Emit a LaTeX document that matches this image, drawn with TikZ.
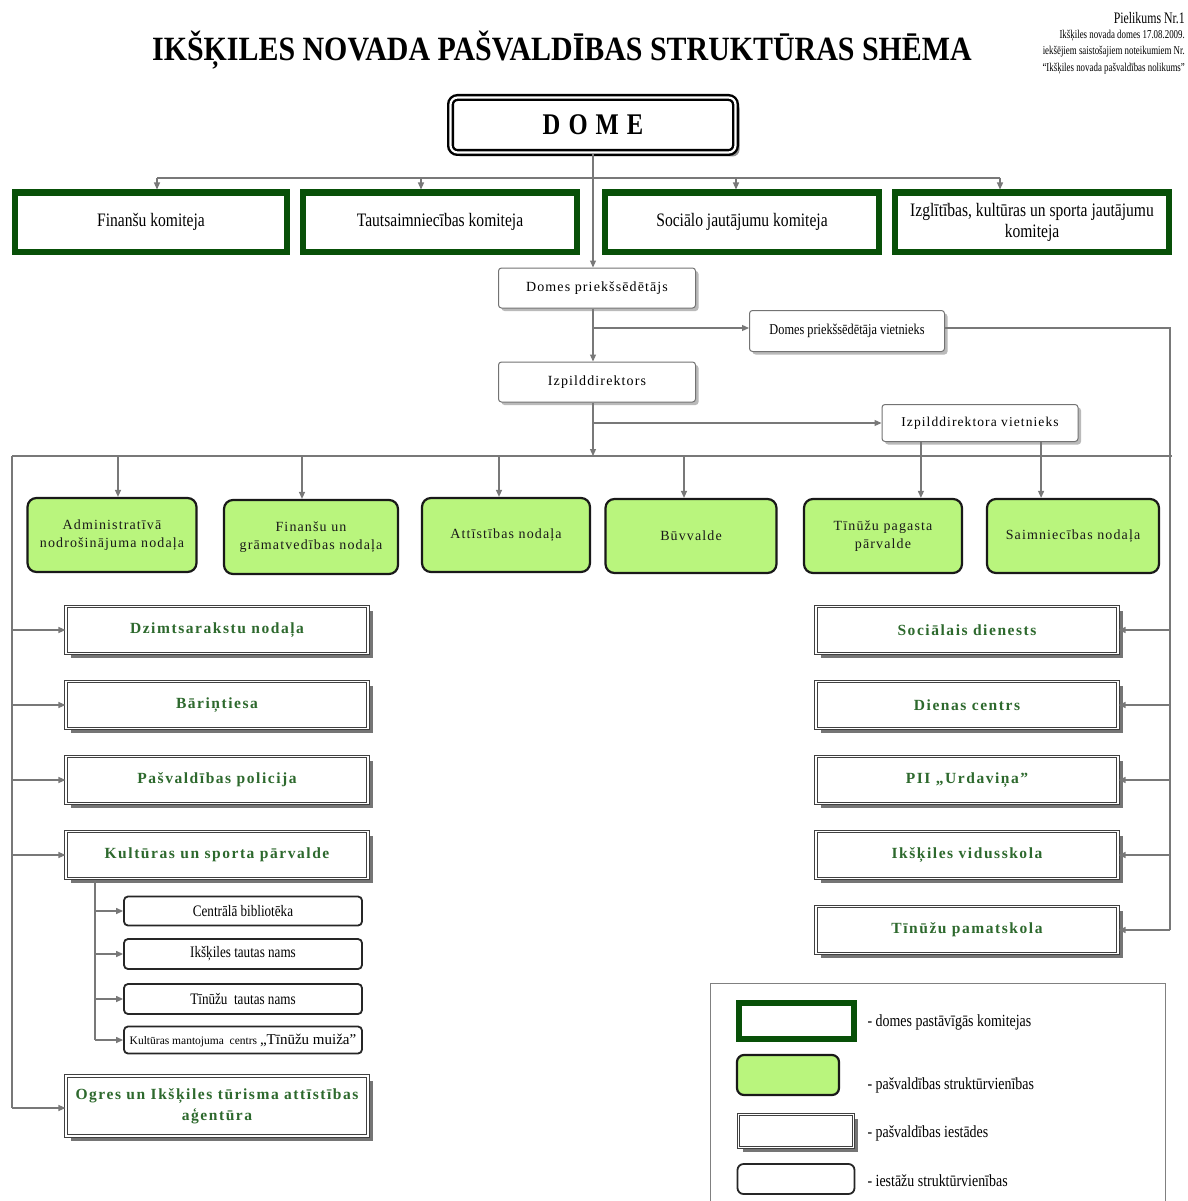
\documentclass[tikz,border=0pt]{standalone}
\usepackage{fontspec}
\setmainfont{Liberation Serif}
\newfontfamily\cond[FakeStretch=0.82]{Liberation Serif}
\newfontfamily\ncond[FakeStretch=0.74]{Liberation Serif}
\newfontfamily\titlef[FakeStretch=0.88]{Liberation Serif}
\newfontfamily\spc[LetterSpace=8]{Liberation Serif}
\newfontfamily\spcb[LetterSpace=10]{Liberation Serif}
\usetikzlibrary{arrows.meta,shadows,calc}
\definecolor{cgreen}{RGB}{8,80,8}
\definecolor{lgreen}{RGB}{185,245,125}
\definecolor{tgreen}{RGB}{45,105,45}
\definecolor{cgray}{RGB}{120,120,120}
\tikzset{
  conn/.style={draw=cgray, line width=1.2pt},
  arr/.style={conn, -{Triangle[length=7pt,width=6pt]}},
  domebox/.style={draw=black, line width=2.4pt, double=white, double distance=2.2pt, rounded corners=7pt, fill=white,
    drop shadow={opacity=0.7, fill=black!60, shadow xshift=4pt, shadow yshift=-4pt}},
  komit/.style={draw=cgreen, line width=6pt, fill=white, font=\cond\fontsize{19}{21}\selectfont, align=center, inner sep=2pt},
  chief/.style={draw=black!55, line width=1pt, rounded corners=3pt, fill=white,
    drop shadow={opacity=0.6, fill=black!45, shadow xshift=3pt, shadow yshift=-3pt}},
  dept/.style={draw=black!90, line width=2.2pt, rounded corners=9pt, fill=lgreen, align=center, text=black!90,
    font=\spc\fontsize{14}{18}\selectfont},
  inst/.style={draw=black!75, line width=1.1pt, double=white, double distance=1.6pt, fill=white, align=center,
    drop shadow={opacity=0.9, fill=black!60, shadow xshift=4.5pt, shadow yshift=-4.5pt},
    font=\spcb\bfseries\fontsize{15.5}{21}\selectfont, text=tgreen},
  subbox/.style={draw=black!85, line width=1.8pt, rounded corners=4pt, fill=white, font=\cond\fontsize{16}{18}\selectfont},
  ltext/.style={anchor=west, font=\cond\fontsize{17}{19}\selectfont},
  note/.style={anchor=east, font=\ncond\fontsize{12}{13}\selectfont, inner sep=0pt},
}
\begin{document}
\begin{tikzpicture}[x=1pt,y=-1pt]
\useasboundingbox (0,0) rectangle (1187,1201);
\fill[white] (0,0) rectangle (1187,1201);

% title and note
\node[font=\titlef\bfseries\fontsize{34}{36}\selectfont] (title) at (562,50) {IKŠĶILES NOVADA PAŠVALDĪBAS STRUKTŪRAS SHĒMA};
\node[note, font=\ncond\fontsize{16}{16}\selectfont] (n1) at (1185,18) {Pielikums Nr.1};
\node[note] (n2) at (1185,36) {Ikšķiles novada domes 17.08.2009.};
\node[note] (n3) at (1185,52) {iekšējiem saistošajiem noteikumiem Nr.};
\node[note] (n4) at (1185,69) {“Ikšķiles novada pašvaldības nolikums”};

% DOME
\node[domebox, minimum width=285, minimum height=55] (dome) at (593,125)
  {\cond\bfseries\fontsize{30}{30}\selectfont D\hspace{8pt}O\hspace{8pt}M\hspace{8pt}E};

% committees
\node[komit, minimum width=272, minimum height=59] (fin) at (151,222) {Finanšu komiteja};
\node[komit, minimum width=274, minimum height=59] (taut) at (440,222) {Tautsaimniecības komiteja};
\node[komit, minimum width=274, minimum height=59] (soc) at (742,222) {Sociālo jautājumu komiteja};
\node[komit, minimum width=274, minimum height=59] (izgl) at (1032,222) {Izglītības, kultūras un sporta jautājumu\\komiteja};

% chiefs
\node[chief, minimum width=197, minimum height=40, font=\spc\fontsize{14}{16}\selectfont] (dpr) at (597,288) {Domes priekšsēdētājs};
\node[chief, minimum width=195, minimum height=41, font=\cond\fontsize{15}{17}\selectfont] (dpv) at (847,331) {Domes priekšsēdētāja vietnieks};
\node[chief, minimum width=197, minimum height=40, font=\spc\fontsize{14}{16}\selectfont] (izp) at (597,382) {Izpilddirektors};
\node[chief, minimum width=196, minimum height=37, font=\spc\fontsize{13.5}{16}\selectfont] (idv) at (980,423) {Izpilddirektora vietnieks};

% departments
\node[dept, minimum width=169, minimum height=74] (adm) at (112,535) {Administratīvā\\nodrošinājuma nodaļa};
\node[dept, minimum width=174, minimum height=74] (fgr) at (311,537) {Finanšu un\\grāmatvedības nodaļa};
\node[dept, minimum width=168, minimum height=74] (att) at (506,535) {Attīstības nodaļa};
\node[dept, minimum width=171, minimum height=74] (buv) at (691,536) {Būvvalde};
\node[dept, minimum width=158, minimum height=74] (tpp) at (883,536) {Tīnūžu pagasta\\pārvalde};
\node[dept, minimum width=172, minimum height=74] (saim) at (1073,536) {Saimniecības nodaļa};

% left institutions
\node[inst, minimum width=302, minimum height=47] (dz) at (217,630) {Dzimtsarakstu nodaļa};
\node[inst, minimum width=302, minimum height=47] (bar) at (217,705) {Bāriņtiesa};
\node[inst, minimum width=302, minimum height=47] (pol) at (217,780) {Pašvaldības policija};
\node[inst, minimum width=302, minimum height=47] (kul) at (217,855) {Kultūras un sporta pārvalde};
\node[inst, minimum width=302, minimum height=60] (ogr) at (217,1106) {Ogres un Ikšķiles tūrisma attīstības\\aģentūra};

% sub units
\node[subbox, minimum width=238, minimum height=29] (cb) at (243,911) {Centrālā bibliotēka};
\node[subbox, minimum width=238, minimum height=30] (itn) at (243,954) {Ikšķiles tautas nams};
\node[subbox, minimum width=238, minimum height=30] (ttn) at (243,999) {Tīnūžu\ \ tautas nams};
\node[subbox, minimum width=238, minimum height=27, inner sep=1pt] (kmc) at (243,1040)
  {\rmfamily\fontsize{11.5}{13}\selectfont Kultūras mantojuma\ \ centrs \fontsize{15}{15}\selectfont „Tīnūžu muiža”};

% right institutions
\node[inst, minimum width=302, minimum height=47] (sd) at (967,630) {Sociālais dienests};
\node[inst, minimum width=302, minimum height=47] (dc) at (967,705) {Dienas centrs};
\node[inst, minimum width=302, minimum height=47] (pii) at (967,780) {PII „Urdaviņa”};
\node[inst, minimum width=302, minimum height=47] (iv) at (967,855) {Ikšķiles vidusskola};
\node[inst, minimum width=302, minimum height=47] (tp) at (967,930) {Tīnūžu pamatskola};

% --- connectors ---
% committees bus
\coordinate (k1) at (157,178);
\coordinate (k2) at (421,178);
\coordinate (k3) at (736,178);
\coordinate (k4) at (1000,178);
\draw[conn] (k1) -- (k4);
\draw[arr] (k1) -- (k1 |- fin.north);
\draw[arr] (k2) -- (k2 |- taut.north);
\draw[arr] (k3) -- (k3 |- soc.north);
\draw[arr] (k4) -- (k4 |- izgl.north);

% main spine
\coordinate (bus) at (593,456);
\draw[arr] (dome.south) -- (dome.south |- dpr.north);
\draw[arr] (dome.south |- dpr.south) -- (dome.south |- izp.north);
\draw[arr] (dome.south |- izp.south) -- (bus);

% deputy chairman
\coordinate (j1) at (593,328);
\draw[arr] (j1) -- (j1 -| dpv.west);
\coordinate (rTop) at (1170,328);
\coordinate (rBot) at (1170,930);
\draw[conn] (j1 -| dpv.east) -- (rTop) -- (rBot);
\foreach \n in {sd,dc,pii,iv,tp}{\draw[arr] (rTop |- \n.east) -- (\n.east);}

% deputy director
\coordinate (j2) at (593,423);
\draw[arr] (j2) -- (j2 -| idv.west);
\coordinate (i1) at ($(idv.south west)!0.2!(idv.south east)$);
\coordinate (i2) at ($(idv.south west)!0.81!(idv.south east)$);
\draw[arr] (i1) -- (i1 |- tpp.north);
\draw[arr] (i2) -- (i2 |- saim.north);

% departments bus
\coordinate (busL) at (12,456);
\coordinate (busR) at (1172,456);
\draw[conn] (busL) -- (busR);
\coordinate (g1) at (118,456);
\coordinate (g2) at (302,456);
\coordinate (g3) at (499,456);
\coordinate (g4) at (684,456);
\draw[arr] (g1) -- (g1 |- adm.north);
\draw[arr] (g2) -- (g2 |- fgr.north);
\draw[arr] (g3) -- (g3 |- att.north);
\draw[arr] (g4) -- (g4 |- buv.north);

% left institutions
\coordinate (lBot) at (12,1108);
\draw[conn] (busL) -- (lBot);
\foreach \n in {dz,bar,pol,kul}{\draw[arr] (busL |- \n.west) -- (\n.west);}
\draw[arr] (lBot) -- (lBot -| ogr.west);

% sub units
\coordinate (sTop) at (95,880);
\coordinate (sBot) at (95,1040);
\draw[conn] (sTop) -- (sBot);
\foreach \n in {cb,itn,ttn,kmc}{\draw[arr] (sTop |- \n.west) -- (\n.west);}

% legend
\node[draw=black!50, line width=0.8pt, minimum width=455, minimum height=240, anchor=north west, inner sep=0pt] (legend) at (710,983) {};
\node[komit, minimum width=115, minimum height=36] (lk) at (796,1021) {};
\node[ltext] (lkt) at (864,1022) {- domes pastāvīgās komitejas};
\node[dept, minimum width=102, minimum height=40, rounded corners=7pt] (ld) at (788,1075) {};
\node[ltext] (ldt) at (864,1085) {- pašvaldības struktūrvienības};
\node[inst, minimum width=115, minimum height=33] (li) at (796,1131) {};
\node[ltext] (lit) at (864,1133) {- pašvaldības iestādes};
\node[subbox, minimum width=117, minimum height=30, rounded corners=6pt] (ls) at (796,1179) {};
\node[ltext] (lst) at (864,1181) {- iestāžu struktūrvienības};
\end{tikzpicture}
\end{document}
